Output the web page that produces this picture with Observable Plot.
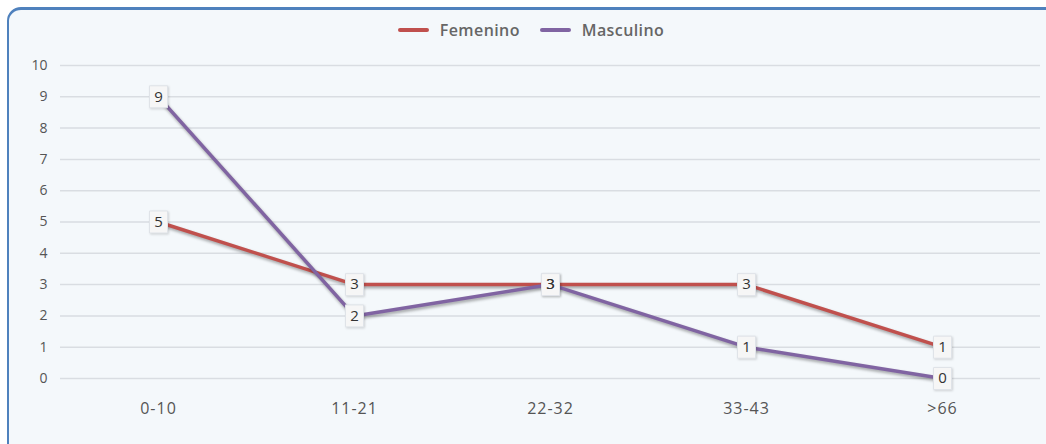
<!DOCTYPE html>
<html><head><meta charset="utf-8">
<script src="https://cdn.jsdelivr.net/npm/d3@7"></script>
<script src="https://cdn.jsdelivr.net/npm/@observablehq/plot@0.6"></script>
<style>
html,body{margin:0;padding:0;background:#fff;width:1046px;height:444px;overflow:hidden;font-family:"Open Sans",sans-serif;}
#panel{position:absolute;left:7px;top:7px;width:1100px;height:520px;border:2px solid #4f81bd;border-top-width:3px;border-radius:14px;background:#f4f8fb;box-sizing:border-box;}
#chart{position:absolute;left:0;top:0;}
#legend{position:absolute;top:19px;left:0;width:1046px;display:flex;justify-content:center;gap:20px;font-size:16px;font-weight:600;letter-spacing:0.4px;color:#666;padding-left:16px;box-sizing:border-box;}
#legend span{display:flex;align-items:center;gap:11px;}
#legend i{display:inline-block;width:31px;height:4px;border-radius:2px;}
g[aria-label="line"] path{filter:drop-shadow(1px 2px 1.5px rgba(0,0,0,0.35));}
g[aria-label="dot"] path{filter:drop-shadow(1px 1px 1px rgba(0,0,0,0.15));}
g[aria-label="x-axis tick label"] text{letter-spacing:1px;}
</style></head>
<body>
<div id="panel"></div>
<div id="chart"></div>
<div id="legend"></div>
<script>
const categories = ["0-10","11-21","22-32","33-43",">66"];
const femenino = [5,3,3,3,1];
const masculino = [9,2,3,1,0];
const yTicks = [0,1,2,3,4,5,6,7,8,9,10];
const seriesNames = ["Femenino","Masculino"];
const seriesColors = ["#c0504d","#8064a2"];

const data = [];
categories.forEach((c,i)=>{
  data.push({cat:c, value:femenino[i], serie:"Femenino"});
  data.push({cat:c, value:masculino[i], serie:"Masculino"});
});

const boxSymbol = {draw(ctx){ ctx.rect(-9,-11,18,22); }};

const plot = Plot.plot({
  width:1046, height:444,
  marginTop:65, marginBottom:66, marginLeft:60, marginRight:6,
  style:{background:"transparent", fontFamily:"'Open Sans', sans-serif", fontSize:"14px", color:"#555"},
  x:{type:"point", domain:categories, padding:0.5, label:null},
  y:{domain:[0,10], label:null},
  color:{domain:seriesNames, range:seriesColors},
  marks:[
    Plot.ruleY(yTicks,{stroke:"#d9dde2", strokeWidth:1.5}),
    Plot.axisY({ticks:yTicks, tickSize:0, tickPadding:13, fontSize:14, label:null}),
    Plot.axisX({tickSize:0, tickPadding:24, fontSize:16, label:null}),
    Plot.line(data,{x:"cat", y:"value", z:"serie", stroke:"serie", strokeWidth:3.5}),
    Plot.dot(data,{x:"cat", y:"value", symbol:boxSymbol, r:10, fill:"#f6f6f6", stroke:"#dfe3e8", strokeWidth:1}),
    Plot.text(data,{x:"cat", y:"value", text:d=>String(d.value), fill:"#333", fontSize:15, dy:0})
  ]
});
document.getElementById("chart").appendChild(plot);

const legend = document.getElementById("legend");
seriesNames.forEach((n,i)=>{
  const s=document.createElement("span");
  s.innerHTML=`<i style="background:${seriesColors[i]}"></i>${n}`;
  legend.appendChild(s);
});
</script>
</body></html>
